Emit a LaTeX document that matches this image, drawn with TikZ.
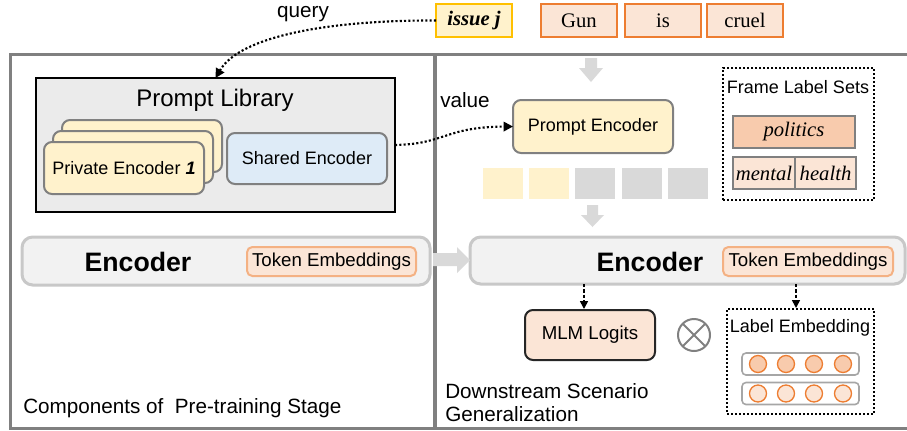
\documentclass[tikz,border=0pt]{standalone}
\usepackage{fontspec}
\setmainfont{Liberation Serif}
\setsansfont{Liberation Sans}
\usetikzlibrary{arrows.meta}
\definecolor{yel}{HTML}{FFF2CC}
\definecolor{gold}{HTML}{FFC000}
\definecolor{gbord}{HTML}{808080}
\definecolor{blu}{HTML}{DEEBF7}
\definecolor{libfill}{HTML}{EBEBEB}
\definecolor{barfill}{HTML}{F2F2F2}
\definecolor{barbord}{HTML}{C8C8C8}
\definecolor{peach}{HTML}{FBE5D6}
\definecolor{peachb}{HTML}{F4B183}
\definecolor{orng}{HTML}{ED7D31}
\definecolor{salmon}{HTML}{F8CBAD}
\definecolor{blk}{HTML}{D9D9D9}
\definecolor{dark}{HTML}{262626}
\tikzset{
  sz/.style 2 args={minimum width=#1*0.75pt, minimum height=#2*0.75pt},
  base/.style={inner sep=0pt, outer sep=0pt},
  ybox/.style={base, draw=gbord, line width=1.5pt, rounded corners=6pt, fill=yel},
  bbox/.style={base, draw=gbord, line width=1.5pt, rounded corners=6pt, fill=blu},
  bar/.style={base, draw=barbord, line width=2.25pt, rounded corners=8pt, fill=barfill},
  tok/.style={base, draw=peachb, line width=1.5pt, rounded corners=4pt, fill=peach},
  word/.style={base, draw=orng, line width=1.5pt, fill=peach},
  lbl/.style={base, draw=gbord, line width=1.2pt},
  dotbox/.style={base, draw=black, line width=1.5pt, dash pattern=on 1.5pt off 1.5pt},
  dotarrow/.style={draw=black, line width=1.6pt, dash pattern=on 1.6pt off 1.6pt, -{Triangle[length=7pt,width=7pt]}},
  dasharrow/.style={draw=black, line width=1.2pt, dash pattern=on 2.5pt off 1.5pt, -{Triangle[length=6pt,width=6pt]}},
  sq/.style={base, sz={40}{31}},
  circ/.style={base, circle, draw=orng, line width=1pt, minimum size=17*0.75pt},
  row/.style={base, draw=gbord!70, line width=1.2pt, rounded corners=3pt, fill=white, sz={117}{22}},
  tx/.style={font=\sffamily\fontsize{13.5}{16}\selectfont},
  big/.style={font=\sffamily\fontsize{15.5}{18.5}\selectfont},
}
\begin{document}
\begin{tikzpicture}[x=0.75pt,y=-0.75pt]
\useasboundingbox (0,0) rectangle (907,430);
% outer frame
\draw[gbord, line width=2.25pt] (907,54) -- (10,54) -- (10,428) -- (907,428);
\draw[gbord, line width=2.6pt] (435,54) -- (435,428);

% Prompt library
\node[base, draw=black, line width=1.6pt, fill=libfill, sz={359}{134}] (lib) at (215.5,145) {};
\node[font=\sffamily\fontsize{18}{21}\selectfont] (libt) at (215,100) {Prompt Library};
\node[ybox, sz={160}{52}] (priv3) at (142,146) {};
\node[ybox, sz={160}{52}] (priv2) at (133,157) {};
\node[ybox, sz={160}{52}, tx] (priv1) at (124,168) {Private Encoder \textbf{\textit{1}}};
\node[bbox, sz={160}{51}, tx] (shared) at (307,158.5) {Shared Encoder};

% left encoder
\node[bar, sz={408}{48}] (enc1) at (226,261) {};
\node[font=\sffamily\bfseries\fontsize{20}{24}\selectfont] (enc1t) at (138,262) {Encoder};
\node[tok, sz={169}{29}, font=\sffamily\fontsize{14}{16}\selectfont] (tok1) at (331.5,261.5) {Token Embeddings};

% right encoder
\node[bar, sz={435}{47}] (enc2) at (687.5,260.5) {};
\node[font=\sffamily\bfseries\fontsize{20}{24}\selectfont] (enc2t) at (650,262) {Encoder};
\node[tok, sz={170}{29}, font=\sffamily\fontsize{14}{16}\selectfont] (tok2) at (808,261.5) {Token Embeddings};

% block arrows
\fill[blk] (433,253) -- (457,253) -- (457,247) -- (470,260) -- (457,273) -- (457,266) -- (433,266) -- cycle;
\fill[blk] (585,58) -- (597,58) -- (597,68) -- (603,68) -- (591,82) -- (579,68) -- (585,68) -- cycle;
\fill[blk] (587,205) -- (598,205) -- (598,215) -- (604,215) -- (592.5,227) -- (581,215) -- (587,215) -- cycle;

% top tokens
\node[base, draw=gold, line width=1.5pt, fill=yel, sz={76}{33}, font=\rmfamily\fontsize{15.5}{18}\selectfont] (issue) at (474,20.5) {\textbf{\textit{issue j}}};
\node[word, sz={76}{33}, font=\rmfamily\fontsize{15.5}{18}\selectfont] (gun) at (579,20.5) {Gun};
\node[word, sz={76}{33}, font=\rmfamily\fontsize{15.5}{18}\selectfont] (is) at (663,20.5) {is};
\node[word, sz={76}{33}, font=\rmfamily\fontsize{15.5}{18}\selectfont] (cruel) at (745,20.5) {cruel};

\node[big] (query) at (303,14) {query};
\node[big] (value) at (465,100) {value};

% prompt encoder
\node[ybox, sz={160}{53}, tx] (penc) at (593,126.5) {Prompt Encoder};
\node[sq, fill=yel] (s1) at (503,183.5) {};
\node[sq, fill=yel] (s2) at (548.5,183.5) {};
\node[sq, fill=blk] (s3) at (595,183.5) {};
\node[sq, fill=blk] (s4) at (642,183.5) {};
\node[sq, fill=blk] (s5) at (688,183.5) {};

% frame label sets
\node[dotbox, sz={151}{132}] (fls) at (798.5,134) {};
\node[tx] (flst) at (798,87) {Frame Label Sets};
\node[lbl, fill=salmon, sz={122}{32}, font=\rmfamily\itshape\fontsize{15.5}{18}\selectfont] (pol) at (794,132) {politics};
\node[lbl, fill=peach, sz={62}{32}, font=\rmfamily\itshape\fontsize{15.5}{18}\selectfont] (men) at (764,173) {mental};
\node[lbl, fill=peach, sz={61}{32}, font=\rmfamily\itshape\fontsize{15.5}{18}\selectfont] (hea) at (825.5,173) {health};

% MLM and label embedding
\node[base, draw=dark, line width=1.5pt, rounded corners=6pt, fill=peach, sz={130}{50}, font=\sffamily\fontsize{14}{16}\selectfont] (mlm) at (590,335) {MLM Logits};
\node[base, circle, draw=gbord, line width=1.5pt, minimum size=32*0.75pt] (ot) at (694,335) {};
\draw[gbord, line width=1.5pt] (ot.north west) -- (ot.south east) (ot.north east) -- (ot.south west);
\node[dotbox, sz={147}{105}] (lemb) at (800.5,361.5) {};
\node[tx] (lembt) at (800,328) {Label Embedding};
\node[row] (r1) at (800.5,364) {};
\node[row] (r2) at (800.5,393.5) {};
\foreach \x [count=\i] in {758,786,814,843}{
  \node[circ, fill=salmon] (a\i) at (\x,364) {};
  \node[circ, fill=peach] (b\i) at (\x,393.5) {};
}

% texts
\node[big, anchor=west, inner sep=0pt] (comp) at (23,408) {Components of~ Pre-training Stage};
\node[big, anchor=west, align=left, inner sep=0pt] (down) at (445,402.5) {Downstream Scenario\\[-1.5pt]Generalization};

% connectors
\draw[dotarrow] (issue.west) .. controls (330,20) and (240,36) .. (lib.north);
\draw[dotarrow] (lib.east) .. controls (445,144) and (445,127) .. (penc.west);
\coordinate (d1) at (584,309);
\coordinate (d2) at (796,308);
\draw[dasharrow] (enc2.south -| d1) -- (d1);
\draw[dasharrow] (enc2.south -| d2) -- (d2);
\end{tikzpicture}
\end{document}
